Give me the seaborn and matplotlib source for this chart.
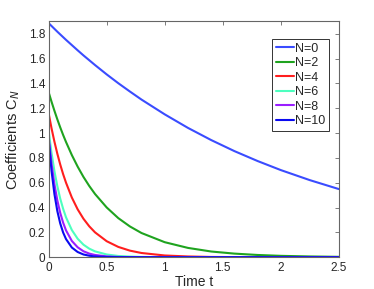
import numpy as np
import pandas as pd
import seaborn as sns
import matplotlib
matplotlib.use("Agg")
import matplotlib.pyplot as plt

# time grid the values were read at
t = [0, 0.025, 0.05, 0.075, 0.1, 0.125, 0.15, 0.2, 0.25, 0.3, 0.35, 0.4,
     0.5, 0.6, 0.7, 0.8, 1.0, 1.2, 1.4, 1.6, 1.8, 2.0, 2.25, 2.5]

# coefficients C_N
c0 = [1.886, 1.863, 1.840, 1.817, 1.795, 1.773, 1.751, 1.709, 1.667, 1.626, 1.587, 1.548,
      1.473, 1.402, 1.335, 1.270, 1.151, 1.042, 0.944, 0.855, 0.775, 0.702, 0.621, 0.549]
c2 = [1.330, 1.253, 1.180, 1.111, 1.046, 0.985, 0.928, 0.823, 0.730, 0.647, 0.574, 0.509,
      0.401, 0.315, 0.248, 0.195, 0.121, 0.075, 0.046, 0.029, 0.018, 0.011, 0.006, 0.003]
c4 = [1.160, 1.039, 0.931, 0.834, 0.747, 0.669, 0.600, 0.481, 0.386, 0.310, 0.249, 0.200,
      0.129, 0.083, 0.053, 0.034, 0.014, 0.006, 0.002, 0.001, 0.0, 0.0, 0.0, 0.0]
c6 = [1.020, 0.841, 0.694, 0.573, 0.472, 0.390, 0.321, 0.219, 0.149, 0.101, 0.069, 0.047,
      0.022, 0.010, 0.005, 0.002, 0.0005, 0.0, 0.0, 0.0, 0.0, 0.0, 0.0, 0.0]
c8 = [0.970, 0.755, 0.588, 0.458, 0.357, 0.278, 0.216, 0.131, 0.080, 0.048, 0.029, 0.018,
      0.0065, 0.002, 0.001, 0.0, 0.0, 0.0, 0.0, 0.0, 0.0, 0.0, 0.0, 0.0]
c10 = [0.950, 0.695, 0.509, 0.372, 0.272, 0.199, 0.146, 0.078, 0.042, 0.022, 0.012, 0.006,
       0.002, 0.0005, 0.0, 0.0, 0.0, 0.0, 0.0, 0.0, 0.0, 0.0, 0.0, 0.0]

labels = ["N=0", "N=2", "N=4", "N=6", "N=8", "N=10"]
colors = ["#3a4cff", "#1fa31f", "#ff1e1e", "#4dffbf", "#9a1eff", "#0a0af0"]

frames = []
for lab, vals in zip(labels, [c0, c2, c4, c6, c8, c10]):
    frames.append(pd.DataFrame({"t": t, "C": vals, "N": lab}))
df = pd.concat(frames, ignore_index=True)

sns.set_style("white")
plt.rcParams["font.family"] = ["Liberation Sans", "DejaVu Sans"]

fig = plt.figure(figsize=(3.74, 2.89), dpi=100)
ax = fig.add_axes([0.130, 0.110, 0.776, 0.816])

sns.lineplot(data=df, x="t", y="C", hue="N", palette=colors, linewidth=1.5, ax=ax)

ax.set_xlim(0, 2.5)
ax.set_ylim(0, 1.9)
ax.set_xticks([0, 0.5, 1, 1.5, 2, 2.5])
ax.set_xticklabels(["0", "0.5", "1", "1.5", "2", "2.5"])
ax.set_yticks([0, 0.2, 0.4, 0.6, 0.8, 1, 1.2, 1.4, 1.6, 1.8])
ax.set_yticklabels(["0", "0.2", "0.4", "0.6", "0.8", "1", "1.2", "1.4", "1.6", "1.8"])
ax.tick_params(direction="in", length=3, width=0.6, color="#666666", labelsize=8.5,
               top=True, right=True)
ax.tick_params(axis="x", pad=3.5)
ax.tick_params(axis="y", pad=2.5)
for s in ax.spines.values():
    s.set_color("#666666")
    s.set_linewidth(0.8)

ax.set_xlabel("Time t", fontsize=10, labelpad=0.5)
ax.set_ylabel("Coefficients C$_N$", fontsize=10.5, labelpad=5)

leg = ax.legend(loc="upper right", bbox_to_anchor=(0.9676, 0.925), fontsize=9,
                frameon=True, fancybox=False, handlelength=1.4, handletextpad=0.15,
                labelspacing=0.2, borderpad=0.3, borderaxespad=0)
leg.get_frame().set_edgecolor("black")
leg.get_frame().set_linewidth(0.7)

fig.savefig("out.png", dpi=100)
